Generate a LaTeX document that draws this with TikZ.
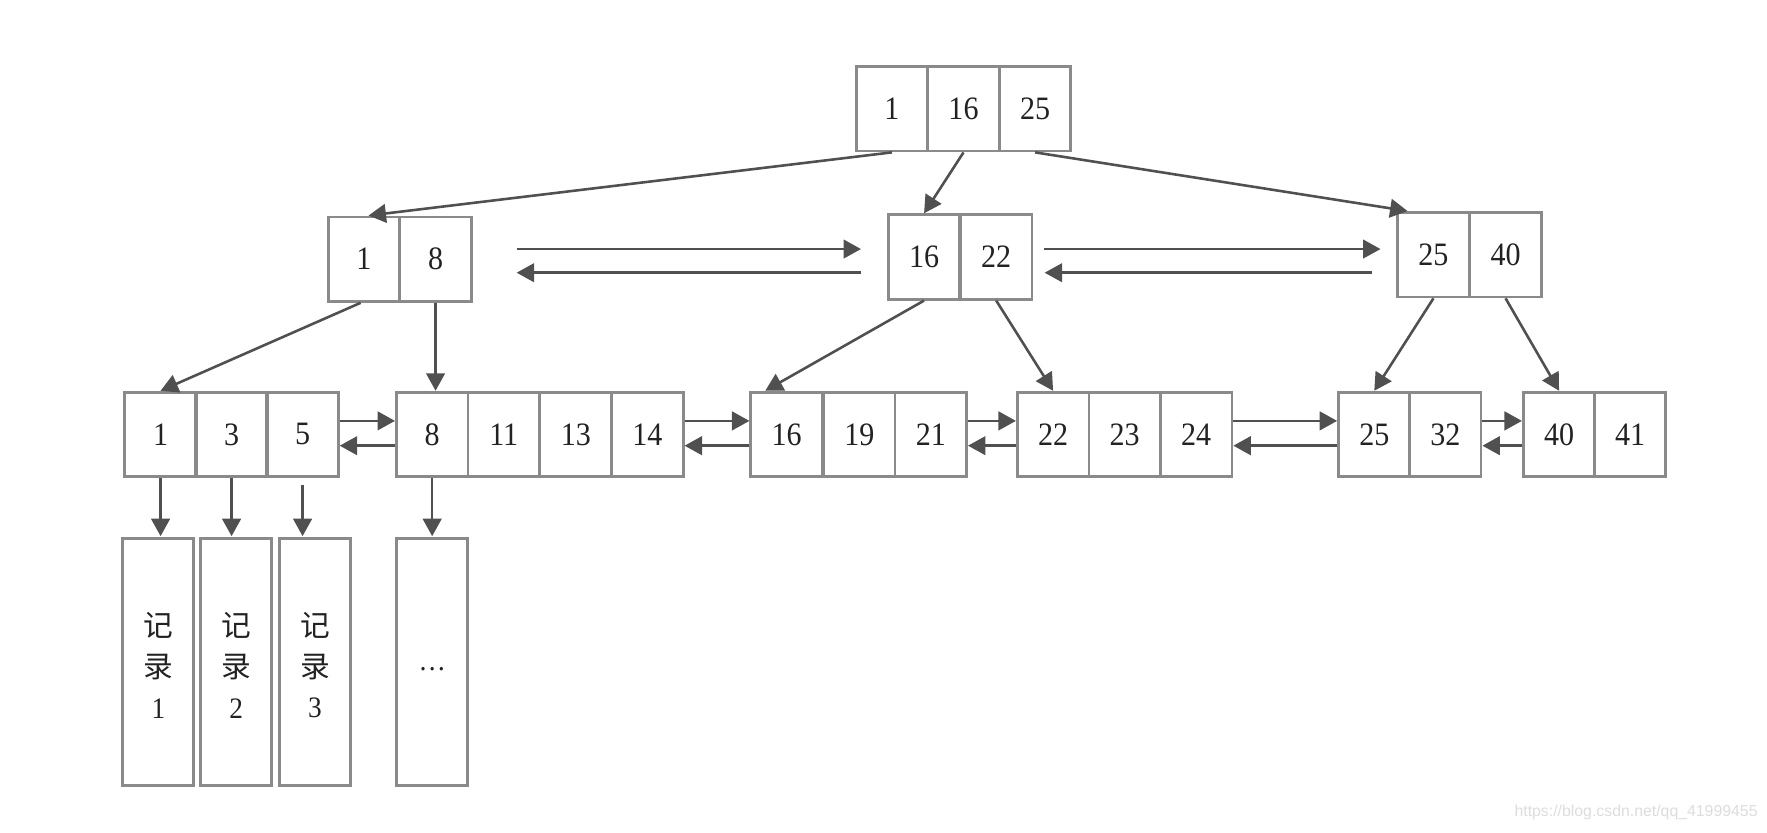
\documentclass[tikz,border=0pt]{standalone}
\usepackage{fontspec}
\setmainfont{Liberation Serif}[FakeStretch=0.92]
\newfontfamily\cjk{Noto Sans CJK SC}
\newfontfamily\wmfont{Liberation Sans}
\usetikzlibrary{arrows.meta,calc}
\definecolor{boxgray}{HTML}{8A8A8A}
\definecolor{arrgray}{HTML}{505050}
\definecolor{txtgray}{HTML}{222222}
\definecolor{wmgray}{HTML}{DDDDDD}
\begin{document}
\begin{tikzpicture}[x=0.02cm,y=-0.02cm,
  cell/.style={draw=boxgray,line width=1.4pt,minimum width=1.27cm,minimum height=1.5cm,inner sep=0pt,text=txtgray,font=\fontsize{16.5}{19}\selectfont},
  rec/.style={draw=boxgray,line width=1.4pt,minimum height=4.38cm,minimum width=1.26cm,inner sep=0pt},
  rectext/.style={inner sep=0pt,align=center,text=txtgray,font=\fontsize{15}{20.5}\selectfont},
  link/.style={draw=arrgray,line width=1.3pt,-{Triangle[length=0.31cm,width=0.33cm]}}]
\useasboundingbox[fill=white] (0,0) rectangle (1568,739);

% root
\node[cell] (r1) at (791.5,96.5) {\raisebox{-0.12em}{1}};
\node[cell] (r2) at (855,96.5) {\raisebox{-0.12em}{16}};
\node[cell] (r3) at (918.5,96.5) {\raisebox{-0.12em}{25}};

% level 2
\node[cell] (a1) at (323,230) {\raisebox{-0.12em}{1}};
\node[cell] (a2) at (386.5,230) {\raisebox{-0.12em}{8}};
\node[cell] (b1) at (820,228) {\raisebox{-0.12em}{16}};
\node[cell] (b2) at (884,228) {\raisebox{-0.12em}{22}};
\node[cell] (c1) at (1272,226) {\raisebox{-0.12em}{25}};
\node[cell] (c2) at (1336,226) {\raisebox{-0.12em}{40}};

% leaves
\node[cell] (l11) at (142.5,385.5) {\raisebox{-0.1em}{1}};
\node[cell] (l12) at (205.5,385.5) {\raisebox{-0.1em}{3}};
\node[cell] (l13) at (268.5,385.5) {\raisebox{-0.1em}{5}};
\node[cell] (l21) at (383.5,385.5) {\raisebox{-0.1em}{8}};
\node[cell] (l22) at (447,385.5) {\raisebox{-0.1em}{11}};
\node[cell] (l23) at (511,385.5) {\raisebox{-0.1em}{13}};
\node[cell] (l24) at (574.5,385.5) {\raisebox{-0.1em}{14}};
\node[cell] (l31) at (698,385.5) {\raisebox{-0.1em}{16}};
\node[cell] (l32) at (762.5,385.5) {\raisebox{-0.1em}{19}};
\node[cell] (l33) at (826,385.5) {\raisebox{-0.1em}{21}};
\node[cell] (l41) at (934.5,385.5) {\raisebox{-0.1em}{22}};
\node[cell] (l42) at (998,385.5) {\raisebox{-0.1em}{23}};
\node[cell] (l43) at (1061.5,385.5) {\raisebox{-0.1em}{24}};
\node[cell] (l51) at (1219.5,385.5) {\raisebox{-0.1em}{25}};
\node[cell] (l52) at (1282.5,385.5) {\raisebox{-0.1em}{32}};
\node[cell] (l61) at (1383.5,385.5) {\raisebox{-0.1em}{40}};
\node[cell] (l62) at (1446.5,385.5) {\raisebox{-0.1em}{41}};

% records
\node[rec] (rec1) at (140.5,587.5) {};
\node[rec] (rec2) at (209.5,587.5) {};
\node[rec] (rec3) at (279.5,587.5) {};
\node[rec] (rec4) at (383.5,587.5) {};
\node[rectext] (t1) at ($(rec1.center)+(0,3)$) {{\cjk 记}\\{\cjk 录}\\1};
\node[rectext] (t2) at ($(rec2.center)+(0,3)$) {{\cjk 记}\\{\cjk 录}\\2};
\node[rectext] (t3) at ($(rec3.center)+(0,3)$) {{\cjk 记}\\{\cjk 录}\\3};
\node[rectext] (t4) at ($(rec4.center)+(0,6)$) {…};

% root -> level 2
\draw[link] (r1.south) -- ($(a1.north)+(4,0)$);
\draw[link] (r2.south) -- (b1.north);
\draw[link] (r3.south) -- ($(c1.north west)+(10,0)$);

% level 2 siblings
\draw[link] ($(a2.east)+(39,-9)$) -- ($(b1.west)+(-23,-7)$);
\draw[link] ($(b1.west)+(-23,14)$) -- ($(a2.east)+(39,12)$);
\draw[link] ($(b2.east)+(9,-7)$) -- ($(c1.west)+(-14,-5)$);
\draw[link] ($(c1.west)+(-22,16)$) -- ($(b2.east)+(10,14)$);

% level 2 -> leaves
\draw[link] ($(a1.south)+(-3,0)$) -- (l11.north);
\draw[link] (a2.south) -- (a2.south |- l21.north);
\draw[link] (b1.south) -- ($(l31.north west)+(14,0)$);
\draw[link] (b2.south) -- (l41.north);
\draw[link] (c1.south) -- (l51.north);
\draw[link] (c2.south) -- (l61.north);

% leaf siblings
\foreach \p/\q in {l13/l21, l24/l31, l33/l41, l43/l51, l52/l61}{
  \draw[link] ($(\p.east)+(0,-12)$) -- ($(\q.west)+(0,-12)$);
  \draw[link] ($(\q.west)+(0,10)$) -- ($(\p.east)+(0,10)$);
}

% leaves -> records
\draw[link] (l11.south) -- ($(l11.south |- rec1.north)+(0,-1)$);
\draw[link] (l12.south) -- ($(l12.south |- rec2.north)+(0,-1)$);
\draw[link] ($(l13.south)+(0,6)$) -- ($(l13.south |- rec3.north)+(0,-1)$);
\draw[link] (l21.south) -- ($(l21.south |- rec4.north)+(0,-1)$);

% watermark
\node[anchor=east,text=wmgray,font=\wmfont\fontsize{8}{9}\selectfont,inner sep=0pt] (wm) at (1560,721) {https://blog.csdn.net/qq\_41999455};
\end{tikzpicture}
\end{document}
